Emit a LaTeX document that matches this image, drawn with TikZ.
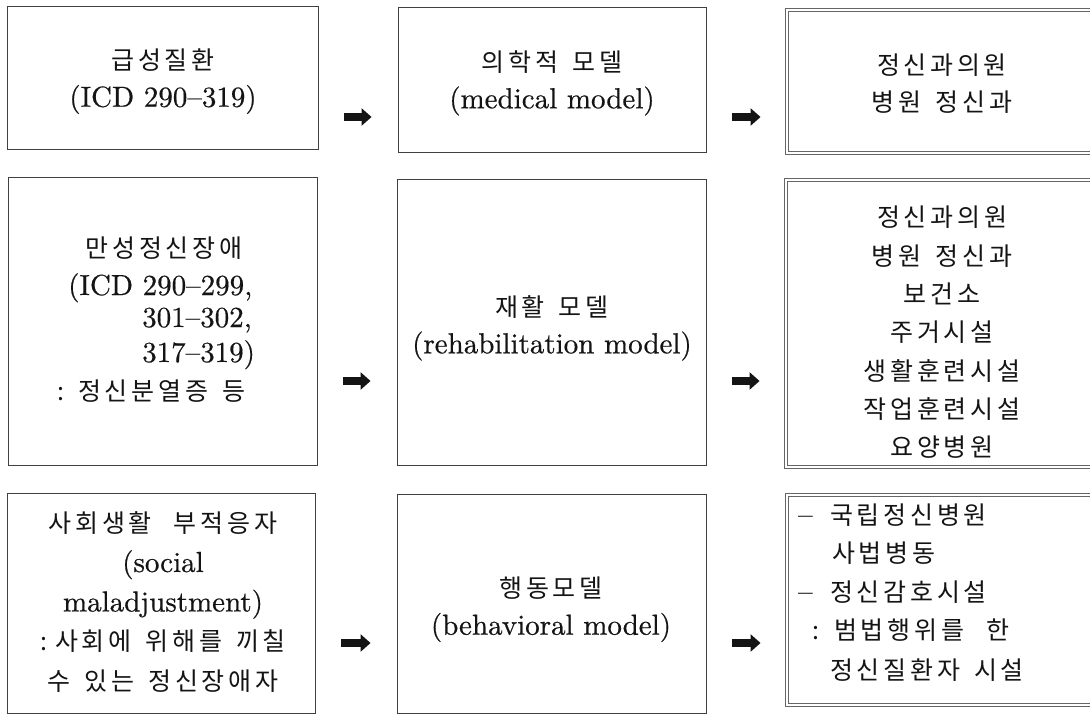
\documentclass[tikz,border=0pt]{standalone}
\usepackage{fontspec}
\newfontfamily\krfam{Noto Sans CJK KR}[LetterSpace=15]
\newfontfamily\latfam{lmroman10-regular.otf}[BoldFont=lmroman10-regular.otf, BoldFeatures={FakeBold=0.5}]
\usetikzlibrary{arrows.meta}
\newcommand\kor{\krfam\mdseries\fontsize{25pt}{37pt}\selectfont}
\newcommand\lat{\latfam\bfseries\fontsize{29pt}{37pt}\selectfont}
\newcommand\ks{\hspace{14pt}}
\begin{document}
\begin{tikzpicture}[x=1pt,y=-1pt,
  box/.style={draw=black!75, line width=0.9pt, inner sep=0pt, fill=white},
  rbox/.style={box, draw=black!60, double=white, double distance=1.4pt, line width=0.9pt},
  txt/.style={inner sep=0pt, align=center, font=\lat, text=black!92},
  ln/.style={inner sep=0pt, anchor=base west, text=black!92},
  blockarr/.style={draw=black!92, line width=8.5pt, -{Triangle[length=10pt,width=17pt]}, shorten <=26pt, shorten >=26pt}
]
\useasboundingbox (0,0) rectangle (1090,714);
\fill[white] (0,0) rectangle (1090,714);
\clip (0,0) rectangle (1090,714);

% boxes
\node[box, minimum width=311pt, minimum height=143pt] (L1) at (162.5,77.5) {};
\node[box, minimum width=308pt, minimum height=145pt] (M1) at (552,79.5) {};
\node[rbox, minimum width=313pt, minimum height=143pt] (R1) at (943.5,81.5) {};
\node[box, minimum width=309pt, minimum height=288pt] (L2) at (162.5,321) {};
\node[box, minimum width=309pt, minimum height=286pt] (M2) at (551.5,322) {};
\node[rbox, minimum width=314pt, minimum height=287pt] (R2) at (943,323.5) {};
\node[box, minimum width=308pt, minimum height=220pt] (L3) at (161,603) {};
\node[box, minimum width=309pt, minimum height=219pt] (M3) at (551.5,603.5) {};
\node[rbox, minimum width=313pt, minimum height=210pt] (R3) at (943.5,600) {};

% row 1 texts
\node[txt] (L1t) at (163,81.5) {{\kor 급성질환}\\(ICD 290–319)};
\node[txt] (M1t) at (552,83) {{\kor 의학적\ks 모델}\\(medical model)};
\node[txt, font=\kor] (R1t) at (942,83.5) {정신과의원\\병원\ks 정신과};

% row 2 texts
\node[ln, anchor=base, font=\kor] (l2a) at (164,258) {만성정신장애};
\node[ln, font=\lat] (l2b) at (68,295) {(ICD 290–299,};
\node[ln, font=\lat] (l2c) at (142,327) {301–302,};
\node[ln, font=\lat] (l2d) at (142,362) {317–319)};
\node[ln, font=\kor] (l2e) at (57,400) {\makebox[21pt][l]{:}정신분열증\hspace{5pt} 등};
\node[txt] (M2t) at (552,328) {{\kor 재활\ks 모델}\\(rehabilitation model)};
\node[txt, font={\krfam\fontsize{25pt}{38.3pt}\selectfont}] (R2t) at (942,332.5)
  {정신과의원\\병원\ks 정신과\\보건소\\주거시설\\생활훈련시설\\작업훈련시설\\요양병원};

% row 3 texts
\node[txt, font={\lat\fontsize{29pt}{39.5pt}\selectfont}] (L3t) at (163,602)
  {{\kor 사회생활\hspace{22pt}부적응자}\\(social\\maladjustment)\\{\kor :\hspace{8pt}사회에\ks 위해를\ks 끼칠}\\{\kor 수\ks 있는\ks 정신장애자}};
\node[txt] (M3t) at (551,609.5) {{\kor 행동모델}\\(behavioral model)};
\node[ln, font=\kor] (r3a) at (798,524) {\makebox[32pt][l]{\lat –}국립정신병원};
\node[ln, font=\kor] (r3b) at (832,562) {사법병동};
\node[ln, font=\kor] (r3c) at (798,601) {\makebox[32pt][l]{\lat –}정신감호시설};
\node[ln, font=\kor] (r3d) at (812,639) {\makebox[22pt][l]{:}범법행위를\hspace{22pt}한};
\node[ln, font=\kor] (r3e) at (830,679) {정신질환자\ks 시설};

% arrows
\coordinate (y1) at (0,117);
\coordinate (y2) at (0,381);
\coordinate (y3) at (0,643);
\draw[blockarr] (L1.east |- y1) -- (M1.west |- y1);
\draw[blockarr] (M1.east |- y1) -- (R1.west |- y1);
\draw[blockarr] (L2.east |- y2) -- (M2.west |- y2);
\draw[blockarr] (M2.east |- y2) -- (R2.west |- y2);
\draw[blockarr] (L3.east |- y3) -- (M3.west |- y3);
\draw[blockarr] (M3.east |- y3) -- (R3.west |- y3);
\end{tikzpicture}
\end{document}
